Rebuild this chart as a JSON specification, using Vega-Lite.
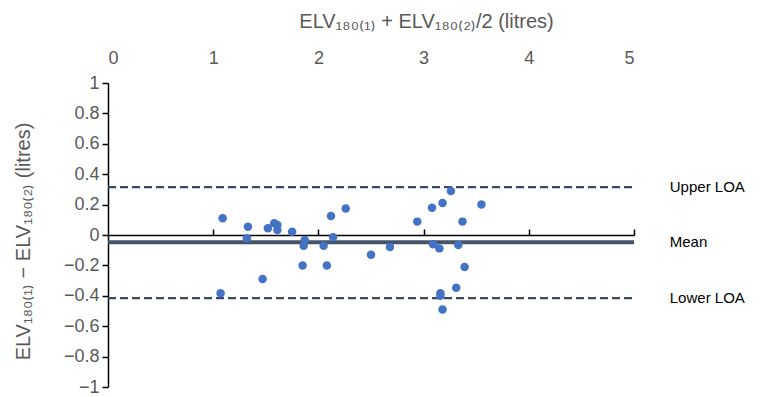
{
  "$schema": "https://vega.github.io/schema/vega-lite/v6.json",
  "width": 526,
  "height": 304,
  "autosize": "none",
  "padding": {"left": 108, "top": 83, "right": 130, "bottom": 10},
  "config": {
    "view": {"stroke": null},
    "font": "Liberation Sans",
    "axis": {"labelFont": "Liberation Sans", "titleFont": "Liberation Sans", "labelColor": "#595959", "titleColor": "#595959", "labelFontSize": 18, "titleFontSize": 20, "titleFontWeight": "normal", "grid": false, "labelOverlap": false},
    "axisY": {"values": [-1, -0.8, -0.6, -0.4, -0.2, 0, 0.2, 0.4, 0.6, 0.8, 1], "format": ".1~f", "labelOverlap": false, "labelBound": false, "domainColor": "#000000", "domainWidth": 1.5, "tickColor": "#000000", "tickWidth": 1.5, "tickSize": 6, "labelPadding": 3, "titlePadding": 30, "titleFontSize": 20, "titleY": 158}
  },
  "datasets": {
    "points": [
      {"mean": 1.09, "diff": 0.11},
      {"mean": 1.33, "diff": 0.055},
      {"mean": 1.32, "diff": -0.022},
      {"mean": 1.52, "diff": 0.044},
      {"mean": 1.58, "diff": 0.077},
      {"mean": 1.61, "diff": 0.066},
      {"mean": 1.61, "diff": 0.033},
      {"mean": 1.75, "diff": 0.022},
      {"mean": 1.87, "diff": -0.033},
      {"mean": 1.86, "diff": -0.07},
      {"mean": 1.85, "diff": -0.2},
      {"mean": 1.47, "diff": -0.29},
      {"mean": 1.07, "diff": -0.384},
      {"mean": 2.05, "diff": -0.07},
      {"mean": 2.08, "diff": -0.2},
      {"mean": 2.12, "diff": 0.125},
      {"mean": 2.14, "diff": -0.015},
      {"mean": 2.26, "diff": 0.175},
      {"mean": 2.5, "diff": -0.13},
      {"mean": 2.68, "diff": -0.079},
      {"mean": 2.94, "diff": 0.088},
      {"mean": 3.08, "diff": 0.18},
      {"mean": 3.18, "diff": 0.21},
      {"mean": 3.26, "diff": 0.29},
      {"mean": 3.55, "diff": 0.2},
      {"mean": 3.37, "diff": 0.088},
      {"mean": 3.09, "diff": -0.061},
      {"mean": 3.15, "diff": -0.088},
      {"mean": 3.33, "diff": -0.066},
      {"mean": 3.39, "diff": -0.21},
      {"mean": 3.31, "diff": -0.347},
      {"mean": 3.16, "diff": -0.384},
      {"mean": 3.16, "diff": -0.4},
      {"mean": 3.18, "diff": -0.49}
    ],
    "limits": [
      {"label": "Upper LOA", "value": 0.315, "kind": "loa"},
      {"label": "Mean", "value": -0.047, "kind": "mean"},
      {"label": "Lower LOA", "value": -0.415, "kind": "loa"}
    ]
  },
  "layer": [
    {
      "data": {"name": "limits"},
      "transform": [{"filter": "datum.kind === 'loa'"}],
      "mark": {"type": "rule", "strokeDash": [8, 4], "strokeWidth": 2.2, "color": "#3a4860"},
      "encoding": {
        "x": {"datum": 0, "type": "quantitative", "scale": {"domain": [0, 5], "nice": false},
          "axis": {"orient": "top", "offset": -152, "values": [1, 2, 3, 4, 5], "labels": false, "title": null, "domainColor": "#000000", "domainWidth": 1.5, "tickColor": "#000000", "tickWidth": 1.5, "tickSize": 6}},
        "x2": {"datum": 5},
        "y": {"field": "value", "type": "quantitative", "scale": {"domain": [-1, 1], "nice": false}, "title": "ELV₁₈₀₍₁₎ − ELV₁₈₀₍₂₎ (litres)"}
      }
    },
    {
      "data": {"name": "limits"},
      "transform": [{"filter": "datum.kind === 'mean'"}],
      "mark": {"type": "rule", "strokeWidth": 4, "color": "#44546A"},
      "encoding": {
        "x": {"datum": 0, "type": "quantitative", "axis": null},
        "x2": {"datum": 5},
        "y": {"field": "value", "type": "quantitative", "title": "ELV₁₈₀₍₁₎ − ELV₁₈₀₍₂₎ (litres)"}
      }
    },
    {
      "data": {"name": "points"},
      "mark": {"type": "circle", "size": 72, "color": "#4472C4", "opacity": 1},
      "encoding": {
        "x": {"field": "mean", "type": "quantitative",
          "axis": {"orient": "top", "values": [0, 1, 2, 3, 4, 5], "domain": false, "ticks": false, "labelPadding": 16, "labelOverlap": false, "title": "ELV₁₈₀₍₁₎ + ELV₁₈₀₍₂₎/2 (litres)", "titlePadding": 18, "titleX": 318, "titleAlign": "center"}},
        "y": {"field": "diff", "type": "quantitative", "title": "ELV₁₈₀₍₁₎ − ELV₁₈₀₍₂₎ (litres)"}
      }
    },
    {
      "data": {"name": "limits"},
      "mark": {"type": "text", "align": "left", "baseline": "middle", "fontSize": 15, "color": "#000000", "font": "Liberation Sans"},
      "encoding": {
        "x": {"datum": 5.34, "type": "quantitative", "axis": null},
        "y": {"field": "value", "type": "quantitative", "title": "ELV₁₈₀₍₁₎ − ELV₁₈₀₍₂₎ (litres)"},
        "text": {"field": "label"}
      }
    }
  ],
  "resolve": {"axis": {"x": "independent"}}
}
